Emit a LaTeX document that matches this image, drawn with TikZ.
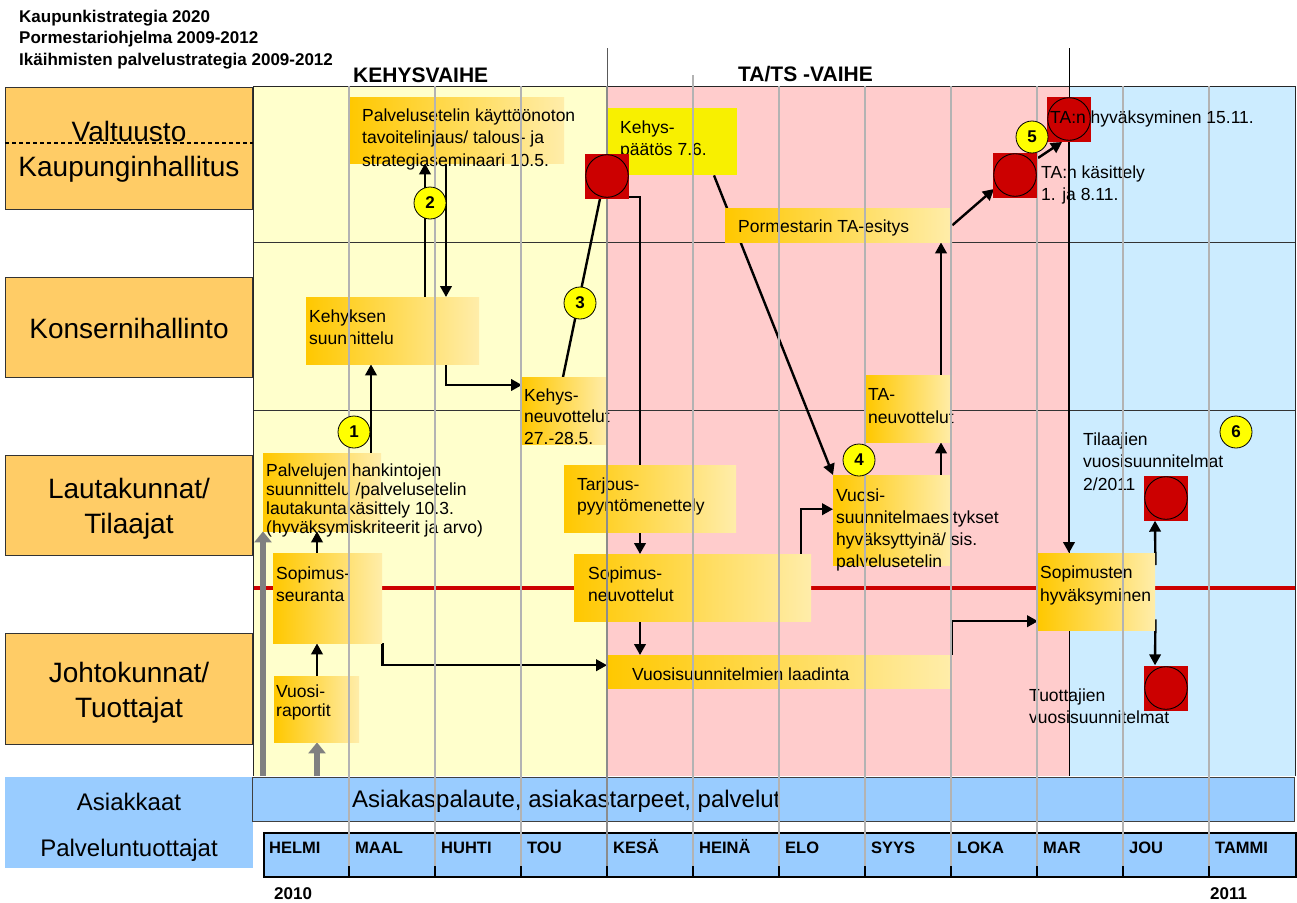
\documentclass[tikz,border=0pt]{standalone}
\usepackage{fontspec}
\setmainfont{Liberation Sans}
\usetikzlibrary{arrows.meta}
\definecolor{phY}{HTML}{FFFFCC}
\definecolor{phP}{HTML}{FFCCCC}
\definecolor{phB}{HTML}{CCECFF}
\definecolor{labc}{HTML}{FFCC66}
\definecolor{lblue}{HTML}{99CCFF}
\definecolor{goldL}{HTML}{FFC800}
\definecolor{goldR}{HTML}{FFEDAA}
\definecolor{kpy}{HTML}{F8F000}
\definecolor{mred}{HTML}{CC0000}
\definecolor{numy}{HTML}{FFFF00}
\definecolor{gridg}{HTML}{B3B3B3}
\definecolor{garr}{HTML}{808080}
\pgfdeclarelayer{bg}
\pgfdeclarelayer{conn}
\pgfdeclarelayer{gridlayer}
\pgfdeclarelayer{top}
\pgfsetlayers{bg,conn,main,gridlayer,top}
\tikzset{
  gbox/.style={rectangle,anchor=north west,inner sep=0pt,left color=goldL,right color=goldR,draw=none},
  txt/.style={anchor=base west,inner sep=0pt,align=left,font=\fontsize{17.5}{22.5}\selectfont},
  lbox/.style={rectangle,anchor=north west,inner sep=0pt,fill=labc,draw=black!80,line width=0.8pt},
  ltext/.style={anchor=base,inner sep=0pt,align=center,font=\fontsize{28}{35}\selectfont},
  ms/.style={rectangle,fill=mred,minimum width=44pt,minimum height=45pt,inner sep=0pt,
    path picture={\draw[black,line width=0.9pt] (path picture bounding box.center) circle (21.3pt);}},
  num/.style={circle,draw=black,line width=0.8pt,fill=numy,minimum size=32pt,inner sep=0pt,
    font=\fontsize{17}{17}\selectfont\bfseries},
  arr/.style={line width=2.4pt,-{Triangle[length=11pt,width=11.5pt]}},
  ln/.style={line width=2.4pt},
  garrow/.style={draw=garr,line width=5.5pt,-{Triangle[length=11pt,width=17pt]}},
  gline/.style={draw=gridg,line width=1.4pt},
  hdr/.style={anchor=base west,inner sep=0pt,align=left,font=\fontsize{17}{21.5}\selectfont\bfseries},
  phase/.style={anchor=base west,inner sep=0pt,font=\fontsize{21}{21}\selectfont\bfseries},
  mon/.style={anchor=base west,inner sep=0pt,font=\fontsize{16.5}{16.5}\selectfont\bfseries},
}
\begin{document}
\begin{tikzpicture}[x=1pt,y=-1pt]
\useasboundingbox (0,0) rectangle (1297,902);

% ---------- background ----------
\begin{pgfonlayer}{bg}
\fill[phY] (253,86) rectangle (607,776);
\fill[phP] (607,86) rectangle (1069,776);
\fill[phB] (1069,86) rectangle (1295,776);
\draw[mred,line width=4pt] (253,588) -- (1295,588);
\draw[black!80,line width=1pt] (253,242) -- (1295,242);
\draw[black!80,line width=1pt] (253,410) -- (1295,410);
\draw[black!85,line width=1pt] (253,776) -- (253,86) -- (1295,86) -- (1295,776);
\draw[black,line width=1pt] (1069,48) -- (1069,776);
\draw[black!65,line width=1pt] (607,48) -- (607,86);
\end{pgfonlayer}

% ---------- header ----------
\node[hdr] (head) at (19,65) {Kaupunkistrategia 2020\\Pormestariohjelma 2009-2012\\Ikäihmisten palvelustrategia 2009-2012};
\node[phase] (ph1) at (353,82) {KEHYSVAIHE};
\node[phase] (ph2) at (738,81) {TA/TS -VAIHE};

% ---------- left labels ----------
\node[lbox,minimum width=247pt,minimum height=122pt] (vk) at (5,87) {};
\draw[black,line width=1.5pt,dash pattern=on 4pt off 3pt] ([yshift=-56pt]vk.north west) -- ([yshift=-56pt]vk.north east);
\node[ltext] (vkt1) at (129,141.5) {Valtuusto};
\node[ltext] (vkt2) at (129,176.5) {Kaupunginhallitus};
\node[lbox,minimum width=247pt,minimum height=100pt] (kh) at (5,277) {};
\node[ltext] (kht) at (129,338) {Konsernihallinto};
\node[lbox,minimum width=247pt,minimum height=100pt] (lt) at (5,455) {};
\node[ltext] (ltt) at (129,533) {Lautakunnat/\\Tilaajat};
\node[lbox,minimum width=247pt,minimum height=111pt] (jt) at (5,633) {};
\node[ltext] (jtt) at (129,717) {Johtokunnat/\\Tuottajat};
\node[rectangle,anchor=north west,inner sep=0pt,fill=lblue,minimum width=248pt,minimum height=91pt] (ap) at (5,777) {};
\node[ltext,font=\fontsize{24}{24}\selectfont] (apt1) at (129,810) {Asiakkaat};
\node[ltext,font=\fontsize{24}{24}\selectfont] (apt2) at (129,856) {Palveluntuottajat};

% ---------- bottom bars ----------
\node[rectangle,anchor=north west,inner sep=0pt,fill=lblue,draw=black!75,line width=0.8pt,minimum width=1042pt,minimum height=44pt] (asbar) at (252,777) {};
\node[anchor=base west,inner sep=0pt,font=\fontsize{24}{24}\selectfont] (asbart) at (352,807) {Asiakaspalaute, asiakastarpeet, palvelut};
\node[rectangle,anchor=north west,inner sep=0pt,fill=lblue,draw=black,line width=2pt,minimum width=1032pt,minimum height=44pt] (mbar) at (263,832) {};
\foreach \x in {349,435,521,607,693,779,865,951,1037,1123,1209}{
  \draw[black,line width=1.6pt] (\x,866) -- (\x,876);
}
\node[mon] (mo1) at (269,853) {HELMI};
\node[mon] (mo2) at (355,853) {MAAL};
\node[mon] (mo3) at (441,853) {HUHTI};
\node[mon] (mo4) at (527,853) {TOU};
\node[mon] (mo5) at (613,853) {KESÄ};
\node[mon] (mo6) at (699,853) {HEINÄ};
\node[mon] (mo7) at (785,853) {ELO};
\node[mon] (mo8) at (871,853) {SYYS};
\node[mon] (mo9) at (957,853) {LOKA};
\node[mon] (mo10) at (1043,853) {MAR};
\node[mon] (mo11) at (1129,853) {JOU};
\node[mon] (mo12) at (1215,853) {TAMMI};
\node[anchor=base west,inner sep=0pt,font=\fontsize{17}{17}\selectfont\bfseries] (y1) at (274,899) {2010};
\node[anchor=base west,inner sep=0pt,font=\fontsize{17}{17}\selectfont\bfseries] (y2) at (1210,899) {2011};

% ---------- boxes ----------
\node[gbox,minimum width=215pt,minimum height=66pt] (sem) at (349,97) {};
\node[rectangle,anchor=north west,inner sep=0pt,fill=kpy,minimum width=129pt,minimum height=67pt] (kp) at (608,108) {};
\node[gbox,minimum width=227pt,minimum height=34pt] (pte) at (725,208) {};
\node[gbox,minimum width=173pt,minimum height=67pt] (ks) at (306,297) {};
\node[gbox,minimum width=85pt,minimum height=67pt] (kn) at (522,377) {};
\node[gbox,minimum width=118pt,minimum height=78pt] (ph) at (263,453) {};
\node[gbox,minimum width=172pt,minimum height=67pt] (tp) at (564,465) {};
\node[gbox,minimum width=109pt,minimum height=90pt] (ss) at (273,553) {};
\node[gbox,minimum width=85pt,minimum height=66pt] (vr) at (274,676) {};
\node[gbox,minimum width=237pt,minimum height=67pt] (sn) at (574,554) {};
\node[gbox,minimum width=117pt,minimum height=90pt] (vse) at (833,475) {};
\node[gbox,minimum width=86pt,minimum height=67pt] (tan) at (866,375) {};
\node[gbox,minimum width=345pt,minimum height=33pt] (vsl) at (607,655) {};
\node[gbox,minimum width=117pt,minimum height=77pt] (sh) at (1038,553) {};

% ---------- texts (anchor = baseline of last line) ----------
\node[txt] (t1) at (362,166) {Palvelusetelin käyttöönoton\\tavoitelinjaus/ talous- ja\\strategiaseminaari 10.5.};
\node[txt] (t2) at (620,155.5) {Kehys-\\päätös 7.6.};
\node[txt] (t3) at (738,232) {Pormestarin TA-esitys};
\node[txt,font=\fontsize{17.5}{22}\selectfont] (t5) at (1041,200) {TA:n käsittely\\1. ja 8.11.};
\node[txt,font=\fontsize{17.5}{22}\selectfont] (t6) at (309,344) {Kehyksen\\suunnittelu};
\node[txt,font=\fontsize{17.5}{21.5}\selectfont] (t7) at (524,444) {Kehys-\\neuvottelut\\27.-28.5.};
\node[txt,font=\fontsize{17.5}{19}\selectfont] (t8) at (266,533) {Palvelujen hankintojen\\suunnittelu /palvelusetelin\\lautakuntakäsittely 10.3.\\(hyväksymiskriteerit ja arvo)};
\node[txt,font=\fontsize{17.5}{21}\selectfont] (t9) at (577,511) {Tarjous-\\pyyntömenettely};
\node[txt,font=\fontsize{17.5}{22}\selectfont] (t10) at (276,601) {Sopimus-\\seuranta};
\node[txt,font=\fontsize{17.5}{19}\selectfont] (t11) at (276,716) {Vuosi-\\raportit};
\node[txt] (t12) at (588,601.5) {Sopimus-\\neuvottelut};
\node[txt,font=\fontsize{17.5}{22}\selectfont] (t13) at (836,567) {Vuosi-\\suunnitelmaesitykset\\hyväksyttyinä/ sis.\\palvelusetelin};
\node[txt,font=\fontsize{17.5}{23}\selectfont] (t14) at (868,423) {TA-\\neuvottelut};
\node[txt] (t15) at (632,680) {Vuosisuunnitelmien laadinta};
\node[txt,font=\fontsize{17.5}{23}\selectfont] (t16) at (1040,601) {Sopimusten\\hyväksyminen};
\node[txt] (t17) at (1083,490) {Tilaajien\\vuosisuunnitelmat\\2/2011};
\node[txt,font=\fontsize{17.5}{22}\selectfont] (t18) at (1029,723) {Tuottajien\\vuosisuunnitelmat};

% ---------- milestones & numbers ----------
\begin{pgfonlayer}{top}
\node[ms] (m1) at (607,176) {};
\node[ms] (m2) at (1015,175) {};
\node[ms] (m3) at (1069,119) {};
\node[ms] (m4) at (1166,498) {};
\node[ms] (m5) at (1166,688) {};
\node[txt] (t4) at (1050,123) {TA:n hyväksyminen 15.11.};
\node[num] (n1) at (354,432) {1};
\node[num] (n2) at (430,203) {2};
\node[num] (n3) at (580,303) {3};
\node[num] (n4) at (859,460) {4};
\node[num] (n5) at (1032,137) {5};
\node[num] (n6) at (1236,432) {6};
\end{pgfonlayer}

% ---------- grid lines ----------
\begin{pgfonlayer}{gridlayer}
\foreach \x in {349,435,521,779,865,951,1037,1123,1209}{
  \draw[gline] (\x,86) -- (\x,866);
}
\draw[gline] (693,75) -- (693,866);
\draw[gline,draw=black!45] (607,86) -- (607,866);
\end{pgfonlayer}

% ---------- connectors ----------
\begin{pgfonlayer}{conn}
\coordinate (gb1) at (263,776);
\coordinate (gb2) at (317,776);
\draw[garrow] (gb1) -- (ph.south west);
\draw[garrow] (gb2) -- (317,0 |- vr.south);
\draw[arr] (371,0 |- ph.north) -- (371,0 |- ks.south);
\draw[arr] (425,0 |- ks.north) -- (425,0 |- sem.south);
\draw[arr] (446,0 |- sem.south) -- (446,0 |- ks.north);
\draw[arr] (446,0 |- ks.south) |- ([yshift=-8pt]kn.north west);
\draw[ln] (563,0 |- kn.north) -- ([xshift=-7pt]m1.south);
\draw[arr] ([yshift=-21pt]m1.east) -| (640,0 |- sn.north);
\draw[arr] (640,0 |- sn.south) -- (640,0 |- vsl.north);
\draw[arr] (714,0 |- kp.south) -- (vse.north west);
\draw[arr] (801,0 |- sn.north) |- ([yshift=11pt]vse.west);
\draw[arr] (941,0 |- vse.north) -- (941,0 |- tan.south);
\draw[arr] (941,0 |- tan.north) -- (941,0 |- pte.south);
\draw[arr] (pte.east) -- ([shift={(-21pt,-14pt)}]m2.center);
\draw[arr] ([shift={(23pt,17pt)}]m2.center) -- ([shift={(-7pt,-23pt)}]m3.center);
\draw[arr] (m3.south) -- (m3.south |- sh.north);
\draw[arr] ([xshift=-1pt]vsl.north east) |- ([yshift=-29.5pt]sh.west);
\draw[arr] (317,0 |- ss.north) -- (317,0 |- ph.south);
\draw[arr] (317,0 |- vr.north) -- (317,0 |- ss.south);
\draw[arr] (ss.south east) |- ([yshift=6.5pt]vsl.west);
\draw[arr] ([yshift=-12pt]sh.north east) -- (1155,0 |- m4.south);
\draw[arr] ([yshift=11pt]sh.south east) -- (1155,0 |- m5.north);
\end{pgfonlayer}
\end{tikzpicture}
\end{document}
